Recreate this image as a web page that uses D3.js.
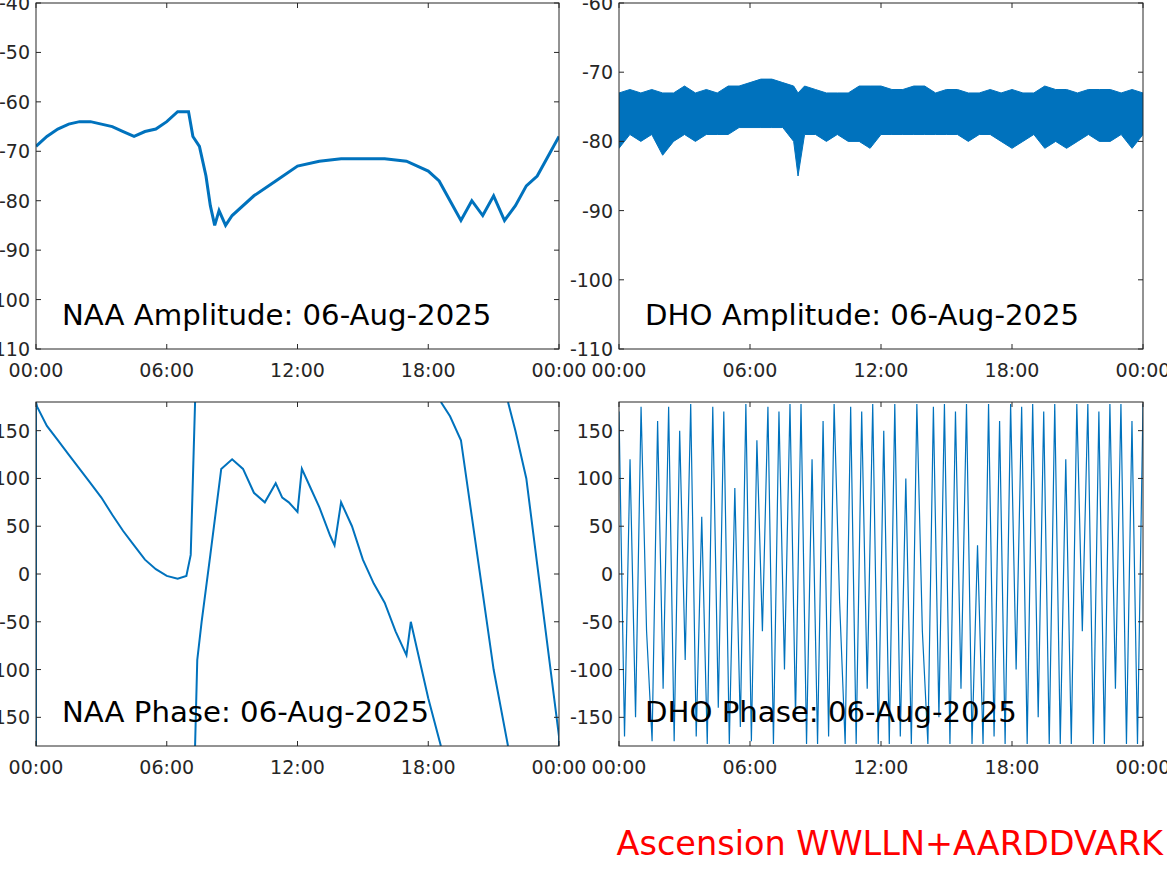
<!DOCTYPE html>
<html><head><meta charset="utf-8">
<script src="https://cdn.jsdelivr.net/npm/d3@7"></script>
<style>body{margin:0;background:#fff}text{font-family:"DejaVu Sans",sans-serif}</style>
</head><body><svg id="c" width="1167" height="875"></svg>
<script>
// hours of day and values
const naaAmpT = [0,0.5,1,1.5,2,2.5,3,3.5,4,4.5,5,5.5,6,6.5,7,7.2,7.5,7.8,8,8.2,8.4,8.7,9,10,11,12,13,14,15,16,17,18,18.5,19,19.5,20,20.5,21,21.5,22,22.5,23,23.5,24];
const naaAmpV = [-69,-67,-65.5,-64.5,-64,-64,-64.5,-65,-66,-67,-66,-65.5,-64,-62,-62,-67,-69,-75,-81,-85,-82,-85,-83,-79,-76,-73,-72,-71.5,-71.5,-71.5,-72,-74,-76,-80,-84,-80,-83,-79,-84,-81,-77,-75,-71,-67];

const dhoT  = [0,0.5,1,1.5,2,2.5,3,3.5,4,4.5,5,5.5,6,6.5,7,7.5,8,8.2,8.5,9,9.5,10,10.5,11,11.5,12,12.5,13,13.5,14,14.5,15,15.5,16,16.5,17,17.5,18,18.5,19,19.5,20,20.5,21,21.5,22,22.5,23,23.5,24];
const dhoHi = [-73,-72.5,-73,-72.5,-73,-73,-72,-73,-72.5,-73,-72,-72,-71.5,-71,-71,-71.5,-72,-73,-72,-72.5,-73,-73,-73,-72,-72,-72,-72.5,-72.5,-72,-72,-73,-72.5,-72.5,-73,-73,-72.5,-73,-72.5,-73,-73,-72,-72.5,-72.5,-73,-72.5,-72.5,-72.5,-73,-72.5,-73];
const dhoLo = [-81,-79,-80,-79,-82,-80,-79,-80,-79,-79,-79,-78,-78,-78,-78,-78,-80,-85,-79,-79,-80,-79,-80,-80,-81,-79,-79,-79,-79,-79,-79,-79,-79,-80,-79,-79,-80,-81,-80,-79,-81,-80,-81,-80,-79,-80,-80,-79,-81,-79];

const naaPhT = [0,0,0.05,0.5,1,1.5,2,2.5,3,3.5,4,4.5,5,5.5,6,6.5,6.9,7.1,7.3,null,7.3,7.4,7.6,8,8.5,9,9.5,10,10.5,11,11.3,11.6,12,12.2,12.6,13,13.5,13.7,14,14.5,15,15.5,16,16.5,17,17.2,17.5,18,18.58,null,18.58,19,19.5,20,20.5,21,21.66,null,21.66,22,22.5,23,23.5,24,24];
const naaPhV = [-180,180,175,155,140,125,110,95,80,62,45,30,15,5,-2,-5,-2,20,180,null,-180,-90,-50,20,110,120,110,85,75,95,80,75,65,110,90,70,40,30,75,50,15,-10,-30,-60,-85,-50,-80,-130,-180,null,180,165,140,60,-20,-100,-180,null,180,150,100,10,-80,-170,-180];

// DHO phase, sampled roughly every 15 minutes (wraps very fast)
const dhoPh = [170,-170,120,-150,175,-60,-175,160,-120,175,-175,150,-90,178,-170,60,-178,175,-140,170,-178,90,-160,178,-175,140,-60,175,-178,170,-100,178,-150,178,-178,120,-178,160,-170,178,-30,-178,175,-178,170,-120,178,-178,150,-178,178,-170,100,-178,178,-60,-178,175,-150,178,-178,170,-120,178,-178,30,-178,178,-170,160,-178,178,-100,175,-178,178,-150,170,-178,178,-178,120,-178,178,-60,178,-178,170,-178,178,-120,178,-178,160,-178,178];

const xTicks = ['00:00','06:00','12:00','18:00','00:00'];
const ampTicks = [-110,-100,-90,-80,-70,-60,-50,-40];
const phTicks = [-150,-100,-50,0,50,100,150];
const blue = '#0072bd';
const svg = d3.select('#c');

function panel(x0, y0, w, h, yDom, yt, title, draw) {
  const x = d3.scaleLinear().domain([0, 24]).range([x0, x0 + w]);
  const y = d3.scaleLinear().domain(yDom).range([y0 + h, y0]);
  const g = svg.append('g');
  const clipId = 'cl' + x0 + y0;
  g.append('clipPath').attr('id', clipId).append('rect')
    .attr('x', x0).attr('y', y0).attr('width', w).attr('height', h);
  const plot = g.append('g').attr('clip-path', `url(#${clipId})`);
  draw(plot, x, y);
  g.append('rect').attr('x', x0).attr('y', y0).attr('width', w).attr('height', h)
    .attr('fill', 'none').attr('stroke', '#262626').attr('stroke-width', 1);
  yt.filter(v => v >= yDom[0] && v <= yDom[1]).forEach(v => {
    g.append('line').attr('x1', x0).attr('x2', x0 + 5).attr('y1', y(v)).attr('y2', y(v)).attr('stroke', '#262626');
    g.append('line').attr('x1', x0 + w).attr('x2', x0 + w - 5).attr('y1', y(v)).attr('y2', y(v)).attr('stroke', '#262626');
    g.append('text').attr('x', x0 - 6).attr('y', y(v) + 7).attr('text-anchor', 'end')
      .attr('font-size', 19).attr('fill', '#262626').text(v);
  });
  xTicks.forEach((t, i) => {
    const xv = x(i * 6);
    g.append('line').attr('x1', xv).attr('x2', xv).attr('y1', y0 + h).attr('y2', y0 + h - 5).attr('stroke', '#262626');
    g.append('line').attr('x1', xv).attr('x2', xv).attr('y1', y0).attr('y2', y0 + 5).attr('stroke', '#262626');
    g.append('text').attr('x', xv).attr('y', y0 + h + 28).attr('text-anchor', 'middle')
      .attr('font-size', 19).attr('fill', '#262626').text(t);
  });
  g.append('text').attr('x', x0 + 26).attr('y', y0 + h - 24).attr('font-size', 29.2).attr('fill', '#000').text(title);
}

panel(36, 3, 523, 346, [-110, -40], ampTicks, 'NAA Amplitude: 06-Aug-2025', (p, x, y) => {
  const pts = naaAmpT.map((t, i) => [t, naaAmpV[i]]);
  p.append('path').datum(pts).attr('fill', 'none').attr('stroke', blue).attr('stroke-width', 3)
    .attr('d', d3.line().x(d => x(d[0])).y(d => y(d[1])));
});

panel(619, 3, 524, 346, [-110, -60], ampTicks, 'DHO Amplitude: 06-Aug-2025', (p, x, y) => {
  const pts = dhoT.map((t, i) => [t, dhoLo[i], dhoHi[i]]);
  p.append('path').datum(pts).attr('fill', blue).attr('stroke', blue).attr('stroke-width', 1)
    .attr('d', d3.area().x(d => x(d[0])).y0(d => y(d[1])).y1(d => y(d[2])));
});

panel(36, 402, 523, 344, [-180, 180], phTicks, 'NAA Phase: 06-Aug-2025', (p, x, y) => {
  const pts = naaPhT.map((t, i) => [t, naaPhV[i]]);
  p.append('path').datum(pts).attr('fill', 'none').attr('stroke', blue).attr('stroke-width', 2)
    .attr('d', d3.line().defined(d => d[0] !== null).x(d => x(d[0])).y(d => y(d[1])));
});

panel(619, 402, 524, 344, [-180, 180], phTicks, 'DHO Phase: 06-Aug-2025', (p, x, y) => {
  const step = 24 / (dhoPh.length - 1);
  p.append('path').datum(dhoPh).attr('fill', 'none').attr('stroke', blue).attr('stroke-width', 1.2)
    .attr('d', d3.line().x((d, i) => x(i * step)).y(d => y(d)));
});

svg.append('text').attr('x', 1163).attr('y', 855).attr('text-anchor', 'end')
  .attr('font-size', 33.5).attr('fill', '#ff0000').text('Ascension WWLLN+AARDDVARK');
</script></body></html>
